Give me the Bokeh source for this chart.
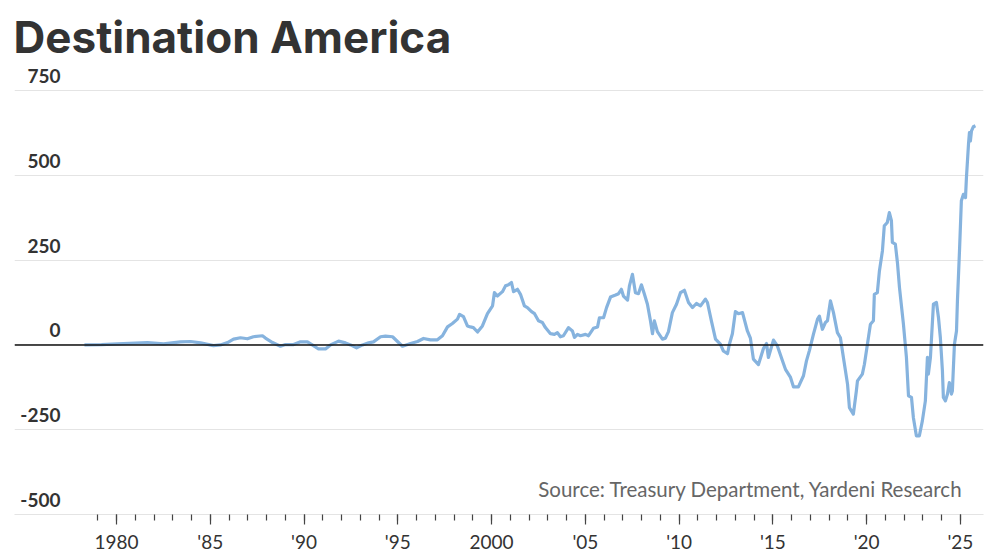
from bokeh.plotting import figure
from bokeh.models import FixedTicker, Span, Label, Grid, Range1d
from bokeh.embed import file_html
from bokeh.resources import INLINE

# ---- data ----
years = [
    1978.29, 1979.20, 1980.05, 1981.65, 1982.51, 1983.41, 1983.95, 1984.48, 1985.17, 1985.54,
    1985.92, 1986.24, 1986.61, 1986.98, 1987.30, 1987.78, 1987.94, 1988.32, 1988.74, 1989.01,
    1989.44, 1989.81, 1990.18, 1990.50, 1990.77, 1991.14, 1991.41, 1991.84, 1992.21, 1992.48,
    1992.80, 1993.12, 1993.44, 1993.70, 1994.08, 1994.34, 1994.72, 1994.98, 1995.25, 1995.68,
    1996.05, 1996.37, 1996.74, 1997.11, 1997.38, 1997.65, 1997.91, 1998.18, 1998.29, 1998.50,
    1998.71, 1998.87, 1999.03, 1999.25, 1999.51, 1999.78, 2000.05, 2000.15, 2000.31, 2000.58,
    2000.74, 2000.90, 2001.06, 2001.17, 2001.38, 2001.54, 2001.75, 2001.91, 2002.13, 2002.29,
    2002.50, 2002.71, 2002.87, 2003.14, 2003.35, 2003.51, 2003.67, 2003.83, 2004.10, 2004.31,
    2004.42, 2004.58, 2004.74, 2005.01, 2005.17, 2005.43, 2005.65, 2005.75, 2005.97, 2006.13,
    2006.34, 2006.61, 2006.77, 2006.92, 2007.03, 2007.25, 2007.35, 2007.51, 2007.67, 2007.83,
    2007.99, 2008.15, 2008.31, 2008.47, 2008.58, 2008.68, 2008.84, 2009.11, 2009.27, 2009.43,
    2009.64, 2009.86, 2010.07, 2010.28, 2010.50, 2010.71, 2010.92, 2011.14, 2011.40, 2011.51,
    2011.72, 2011.94, 2012.20, 2012.36, 2012.58, 2012.68, 2012.84, 2013.00, 2013.16, 2013.38,
    2013.64, 2013.80, 2013.96, 2014.23, 2014.50, 2014.66, 2014.76, 2015.03, 2015.24, 2015.51,
    2015.67, 2015.94, 2016.10, 2016.36, 2016.63, 2016.79, 2016.95, 2017.16, 2017.38, 2017.48,
    2017.64, 2017.80, 2017.91, 2018.07, 2018.23, 2018.44, 2018.60, 2018.76, 2018.98, 2019.08,
    2019.29, 2019.45, 2019.51, 2019.77, 2019.88, 2020.04, 2020.20, 2020.36, 2020.41, 2020.57,
    2020.68, 2020.84, 2020.94, 2021.10, 2021.21, 2021.32, 2021.37, 2021.53, 2021.64, 2021.75,
    2021.96, 2022.12, 2022.23, 2022.39, 2022.49, 2022.65, 2022.81, 2022.97, 2023.13, 2023.24,
    2023.29, 2023.40, 2023.51, 2023.56, 2023.72, 2023.83, 2023.93, 2024.04, 2024.09, 2024.20,
    2024.31, 2024.41, 2024.52, 2024.57, 2024.68, 2024.79, 2024.84, 2024.95, 2025.05, 2025.16,
    2025.27, 2025.32, 2025.43, 2025.48, 2025.53, 2025.59, 2025.69, 2025.80,
]
values = [
    0, 1, 3, 7, 3, 9, 10, 6, -2, 0,
    7, 17, 21, 18, 24, 27, 20, 7, -4, 1,
    1, 9, 9, -2, -12, -12, 0, 11, 6, 0,
    -9, 0, 6, 9, 24, 26, 24, 10, -4, 4,
    10, 19, 15, 15, 27, 53, 63, 76, 90, 83,
    56, 53, 51, 38, 56, 92, 115, 154, 144, 157,
    174, 177, 184, 157, 164, 149, 115, 110, 98, 92,
    71, 66, 51, 33, 31, 36, 24, 27, 51, 41,
    22, 31, 27, 31, 27, 49, 53, 80, 80, 110,
    141, 147, 151, 164, 144, 132, 174, 208, 154, 151,
    177, 149, 120, 71, 33, 71, 39, 17, 20, 39,
    95, 120, 154, 161, 125, 110, 122, 115, 135, 125,
    71, 17, 2, -18, -26, 2, 33, 98, 92, 95,
    41, 20, -42, -58, -10, 4, -37, 14, -3, -47,
    -72, -96, -124, -124, -91, -47, -16, 31, 76, 85,
    46, 66, 71, 130, 95, 36, 21, -37, -116, -185,
    -204, -136, -106, -86, -57, 2, 61, 71, 149, 154,
    218, 277, 351, 361, 390, 366, 302, 297, 243, 169,
    61, -37, -150, -155, -214, -268, -268, -224, -165, -37,
    -86, -37, 71, 120, 125, 80, 21, -77, -155, -165,
    -145, -111, -145, -136, 2, 41, 130, 277, 425, 444,
    434, 493, 592, 626, 601, 631, 643, 646,
]
y_ticks = [-500, -250, 0, 250, 500, 750]
y_tick_labels = ["-500", "-250", "0", "250", "500", "750"]
x_major = [1980, 1985, 1990, 1995, 2000, 2005, 2010, 2015, 2020, 2025]
x_labels = ["1980", "'85", "'90", "'95", "2000", "'05", "'10", "'15", "'20", "'25"]
x_minor = list(range(1979, 2026))
title_text = "Destination America"
source_text = "Source: Treasury Department, Yardeni Research"

FONT = "Lato"
GRID = "#e4e4e4"

p = figure(
    frame_width=969, frame_height=506,
    x_range=Range1d(1974.56, 2026.23), y_range=Range1d(-500, 991.7),
    y_axis_location=None, toolbar_location=None, output_backend="svg",
    min_border_left=14, min_border_right=9, min_border_top=8, min_border_bottom=0,
    outline_line_color=None, background_fill_color="white", border_fill_color="white",
)
p.xgrid.visible = False
p.ygrid.visible = False
p.add_layout(Grid(dimension=1, ticker=FixedTicker(ticks=y_ticks),
                  grid_line_color=GRID, grid_line_width=1.2))

ax = p.xaxis[0]
ax.ticker = FixedTicker(ticks=x_major, minor_ticks=x_minor)
ax.major_label_overrides = {t: l for t, l in zip(x_major, x_labels)}
ax.axis_line_color = GRID
ax.axis_line_width = 1.2
ax.major_tick_in = 0
ax.major_tick_out = 10
ax.minor_tick_in = 0
ax.minor_tick_out = 6
ax.major_tick_line_color = "#444444"
ax.minor_tick_line_color = "#444444"
ax.major_tick_line_width = 1.2
ax.minor_tick_line_width = 1.2
ax.major_label_standoff = 5
ax.major_label_text_font = FONT
ax.major_label_text_font_size = "19px"
ax.major_label_text_color = "#333333"

p.line(years, values, line_color="#86b3de", line_width=3.2, line_join="round")

p.add_layout(Span(location=0, dimension="width", line_color="#111111", line_width=1.5))

for t, lab in zip(y_ticks, y_tick_labels):
    p.add_layout(Label(x=46, x_units="screen", y=t, y_units="data", y_offset=14.5,
                       text=lab, text_align="right", text_baseline="alphabetic",
                       text_font=FONT, text_font_style="bold", text_font_size="19px",
                       text_color="#333333"))

p.add_layout(Label(x=-1, y=478, x_units="screen", y_units="screen", text=title_text,
                   text_font="Inter", text_font_style="bold", text_font_size="44px",
                   text_color="#333333", text_baseline="alphabetic"))

p.add_layout(Label(x=949, y=26, x_units="screen", y_units="screen", text=source_text,
                   text_align="right", text_baseline="alphabetic",
                   text_font=FONT, text_font_size="20.5px", text_color="#666666"))

open("out.html", "w").write(file_html(p, INLINE))
